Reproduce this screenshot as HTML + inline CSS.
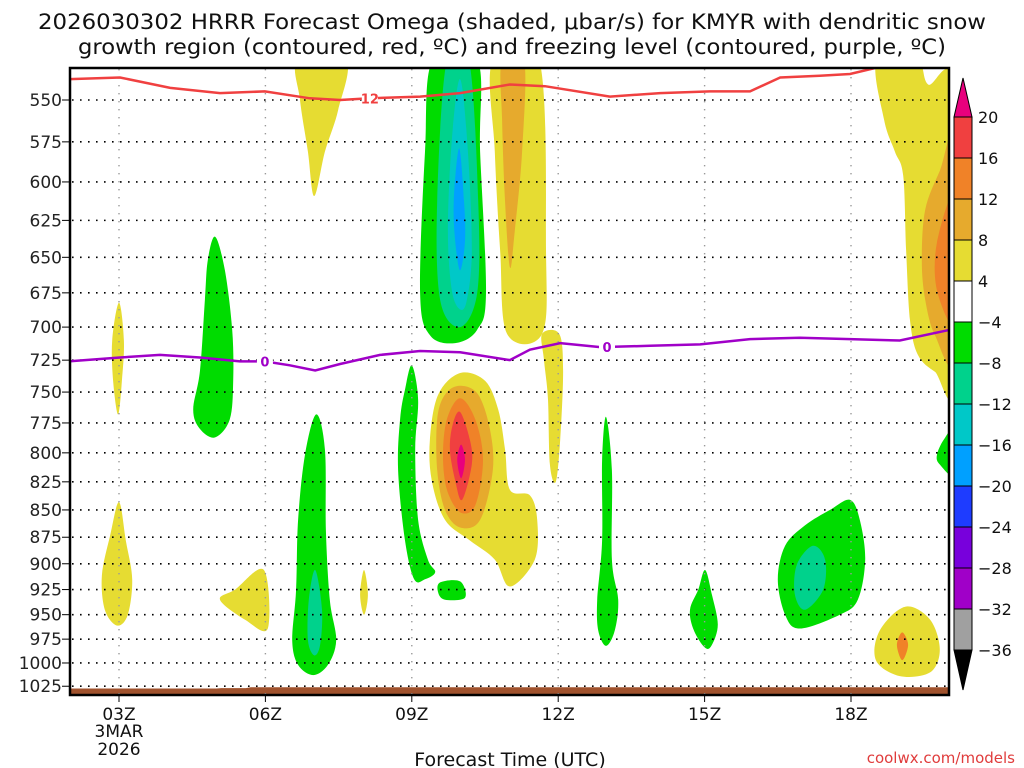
<!DOCTYPE html>
<html><head><meta charset="utf-8">
<style>
html,body{margin:0;padding:0;background:#fff;}
svg{display:block;font-family:"DejaVu Sans","Liberation Sans",sans-serif;}
</style></head>
<body>
<svg id="chart" width="1024" height="768" viewBox="0 0 1024 768" xmlns="http://www.w3.org/2000/svg">
<defs><clipPath id="plotclip"><rect x="70" y="68" width="879" height="627"/></clipPath></defs>
<rect x="0" y="0" width="1024" height="768" fill="#fff"/>
<text x="38" y="29" font-size="21" textLength="948" lengthAdjust="spacingAndGlyphs" fill="#111">2026030302 HRRR Forecast Omega (shaded, μbar/s) for KMYR with dendritic snow</text>
<text x="78" y="54" font-size="21" textLength="868" lengthAdjust="spacingAndGlyphs" fill="#111">growth region (contoured, red, ºC) and freezing level (contoured, purple, ºC)</text>
<g id="plot" clip-path="url(#plotclip)"></g>
<g id="grid"></g>
<g id="lines" clip-path="url(#plotclip)"></g>
<rect x="70" y="68" width="879" height="627" fill="none" stroke="#000" stroke-width="2.5"/>
<g id="axes"></g>
<g id="cbar"></g>
<text x="510" y="766" font-size="19" text-anchor="middle" fill="#111">Forecast Time (UTC)</text>
<text x="1015" y="763" font-size="15" text-anchor="end" fill="#e03c3c">coolwx.com/models</text>
</svg>
<script>
const NS="http://www.w3.org/2000/svg";
const pressureTicks=[550,575,600,625,650,675,700,725,750,775,800,825,850,875,900,925,950,975,1000,1025];
const hourTicks=[3,6,9,12,15,18];
const hourTickLabels=["03Z","06Z","09Z","12Z","15Z","18Z"];
const cbLevels=[20,16,12,8,4,-4,-8,-12,-16,-20,-24,-28,-32,-36];
const cbColors=["#f04040","#f08228","#e6aa2d","#e6dc32","#ffffff","#00dc00","#00d28c","#00c8c8","#00a0ff","#1e3cff","#7800dc","#a000c8","#a0a0a0"];
const levelColor={y:"#e6dc32",g:"#e6aa2d",o:"#f08228",r:"#f04040",m:"#e8007d",G:"#00dc00",T:"#00d28c",C:"#00c8c8",B:"#00a0ff"};
// blobs: [level, hours[], pressures[]]
const blobLevels=["y","G","T","C","B","y","g","y","y","g","o","r","m","G","G","G","T","G","y","y","y","y","G","G","G","T","y","o","G","y","g","o"];
const blobHours=[
[6.67,7.65,7.49,7.22,7.0,6.87,6.71],
[9.43,10.34,10.40,10.52,10.34,9.89,9.37,9.17,9.27],
[9.72,10.17,10.36,10.34,9.99,9.58,9.52],
[9.99,10.15,10.23,10.13,9.99,9.82,9.74,9.82],
[9.97,10.07,10.09,9.99,9.89,9.86],
[10.66,11.61,11.75,11.67,10.95,10.81,10.70],
[10.85,11.30,11.26,11.11,11.01,10.91,10.85],
[11.67,12.02,12.10,12.04,11.95,11.83,11.79,11.71],
[9.99,10.50,10.77,10.91,11.01,11.42,11.57,11.52,11.01,10.70,10.19,9.68,9.41,9.37,9.54],
[9.99,10.36,10.60,10.66,10.40,9.99,9.68,9.52,9.52,9.68],
[9.99,10.30,10.46,10.30,9.99,9.72,9.64,9.72],
[9.99,10.19,10.23,10.03,9.89,9.78,9.84],
[10.01,10.09,10.01,9.93],
[9.00,9.13,9.07,9.13,9.33,9.48,9.27,9.05,8.86,8.72,8.76,8.86],
[9.58,9.99,10.09,9.68,9.54],
[7.04,7.22,7.24,7.32,7.45,7.28,6.98,6.67,6.55,6.63,6.67,6.81],
[7.02,7.16,7.12,7.00,6.87,6.89],
[4.97,5.17,5.32,5.34,5.27,4.97,4.66,4.52,4.66,4.76,4.82],
[3.00,3.10,3.06,2.98,2.88,2.86],
[3.00,3.14,3.27,3.18,2.96,2.71,2.65,2.82],
[5.97,6.05,5.58,5.07,5.38],
[8.02,8.10,8.02,7.94],
[12.98,13.10,13.10,13.23,13.16,12.98,12.82,12.80,12.90,12.90],
[15.01,15.15,15.27,15.15,15.01,14.78,14.70,14.87],
[17.98,18.18,18.29,18.14,17.77,16.95,16.65,16.50,16.65,17.06,17.57],
[17.22,17.47,17.43,17.06,16.85,16.89],
[19.11,19.62,19.82,19.62,19.00,18.51,18.59],
[19.05,19.17,19.05,18.94],
[20.13,20.13,19.82,19.76,19.90],
[18.53,19.35,19.58,20.13,20.13,19.72,19.37,19.21,19.13,19.07,18.90,18.68],
[20.13,19.82,19.52,19.45,19.52,19.72,20.13],
[20.13,19.76,19.76,20.13]
];
const blobPressures=[
[527,527,556,581,609,581,550],
[527,527,581,675,702,712,706,675,581],
[527,527,612,675,700,680,612],
[538,581,645,680,687,673,632,574],
[579,612,639,659,639,612],
[527,527,645,705,705,645,581],
[527,527,581,632,657,612,562],
[705,705,733,789,825,810,756,725],
[735,741,764,797,832,837,859,896,922,896,878,859,824,789,752],
[745,752,780,815,859,866,850,815,772,752],
[755,772,806,846,852,832,802,772],
[766,789,810,841,824,797,776],
[793,806,822,806],
[729,756,797,859,896,908,915,915,878,815,772,748],
[918,917,933,935,928],
[768,797,869,935,976,1002,1013,1002,976,925,859,802],
[906,945,981,992,976,935],
[636,659,702,741,772,787,780,764,733,680,652],
[682,710,741,768,741,710],
[843,878,915,950,961,945,911,873],
[906,964,955,935,925],
[906,930,950,930],
[770,815,896,935,966,982,966,935,878,806],
[906,930,960,981,984,966,945,925],
[841,859,896,935,950,964,950,915,883,864,850],
[883,896,925,945,930,901],
[942,955,986,1010,1014,997,966],
[968,981,997,981],
[780,819,810,802,789],
[527,527,541,545,741,734,721,695,645,596,581,562],
[574,593,618,652,680,706,721],
[609,640,673,695]
];
const dgzHours=[1.95,3.02,4.05,5.07,5.99,6.91,7.53,8.14,9.17,9.99,11.01,11.73,13.06,14.09,15.11,15.93,16.55,17.36,17.98,18.59];
const dgzPressures=[538,537,543,546,545,549,550,549,548,546,541,542,548,546,545,545,537,536,535,531];
const frzHours=[1.95,3.02,3.84,4.66,5.48,5.99,6.50,7.02,7.53,8.35,9.17,9.99,11.01,11.42,12.04,12.86,13.88,14.91,15.93,16.95,17.98,19.00,20.03];
const frzPressures=[726,723,721,723,726,726,729,733,728,721,718,719,725,717,712,715,714,713,709,708,709,710,702];
const groundHours=[1.9,5.0,5.1,5.6,5.7,20.2];
const groundPressures=[1027.5,1027.5,1027,1027,1026,1026];

const xS=h=>119+(h-3)*48.8;
const yS=p=>100+941.7*Math.log(p/550);

function smoothClosed(pts){
  const n=pts.length;let d=`M${pts[0][0].toFixed(1)},${pts[0][1].toFixed(1)}`;
  for(let i=0;i<n;i++){
    const p0=pts[(i-1+n)%n],p1=pts[i],p2=pts[(i+1)%n],p3=pts[(i+2)%n];
    const c1=[p1[0]+(p2[0]-p0[0])/6,p1[1]+(p2[1]-p0[1])/6];
    const c2=[p2[0]-(p3[0]-p1[0])/6,p2[1]-(p3[1]-p1[1])/6];
    d+=`C${c1[0].toFixed(1)},${c1[1].toFixed(1)} ${c2[0].toFixed(1)},${c2[1].toFixed(1)} ${p2[0].toFixed(1)},${p2[1].toFixed(1)}`;
  }
  return d+"Z";
}
function mk(tag,attrs,parent){const e=document.createElementNS(NS,tag);for(const k in attrs)e.setAttribute(k,attrs[k]);parent.appendChild(e);return e;}

const plot=document.getElementById("plot");
blobLevels.forEach((lv,i)=>{
  const pts=blobHours[i].map((h,j)=>[xS(h),yS(blobPressures[i][j])]);
  const e=mk("path",{d:smoothClosed(pts),fill:levelColor[lv]},plot);
  
  
});
// ground
{
  let d=`M${xS(groundHours[0])},720`;
  groundHours.forEach((h,i)=>{d+=`L${xS(h).toFixed(1)},${yS(groundPressures[i]).toFixed(1)}`;});
  d+=`L${xS(groundHours[groundHours.length-1])},720Z`;
  const e=mk("path",{d:d,fill:"#a0522d"},plot);
  
  
}
// grid
const grid=document.getElementById("grid");
pressureTicks.forEach(p=>{
  const e=mk("line",{x1:72,x2:948,y1:yS(p),y2:yS(p),stroke:"#000","stroke-width":1.6,"stroke-dasharray":"1.6 6.4"},grid);
  
  
});
hourTicks.forEach(h=>{
  const e=mk("line",{x1:xS(h),x2:xS(h),y1:69,y2:694,stroke:"#999","stroke-width":1.4,"stroke-dasharray":"1.4 6.6"},grid);
  
  
});
// contour lines
const lines=document.getElementById("lines");
{
  const e=mk("polyline",{points:dgzHours.map((h,i)=>`${xS(h).toFixed(1)},${yS(dgzPressures[i]).toFixed(1)}`).join(" "),fill:"none",stroke:"#f04040","stroke-width":2.5},lines);
  
  
  const f=mk("polyline",{points:frzHours.map((h,i)=>`${xS(h).toFixed(1)},${yS(frzPressures[i]).toFixed(1)}`).join(" "),fill:"none",stroke:"#a000c8","stroke-width":2.5},lines);
  
  
  const lab=[[8.14,549,"12","#f04040"],[5.99,726,"0","#a000c8"],[13.0,715,"0","#a000c8"]];
  lab.forEach(l=>{
    const r=mk("rect",{x:xS(l[0])-8,y:yS(l[1])-7,width:16,height:14,fill:"#fff"},lines);
    
    
    const t=mk("text",{x:xS(l[0]),y:yS(l[1])+5,"font-size":13,"font-weight":"bold","text-anchor":"middle",fill:l[3]},lines);
    t.textContent=l[2];
    
    
  });
}
// axes
const axes=document.getElementById("axes");
pressureTicks.forEach(p=>{
  const t=mk("text",{x:62,y:yS(p)+6,"font-size":17,"text-anchor":"end",fill:"#222"},axes);
  t.textContent=p;
  
  
  const k=mk("line",{x1:62,x2:70,y1:yS(p),y2:yS(p),stroke:"#000","stroke-width":1},axes);
  
  
});
hourTicks.forEach((h,i)=>{
  const k=mk("line",{x1:xS(h),x2:xS(h),y1:695,y2:702,stroke:"#000","stroke-width":1},axes);
  
  
  const t=mk("text",{x:xS(h),y:720,"font-size":17,"text-anchor":"middle",fill:"#111"},axes);
  t.textContent=hourTickLabels[i];
  
  
});
[["3MAR",737],["2026",755]].forEach(a=>{
  const t=mk("text",{x:xS(3),y:a[1],"font-size":17,"text-anchor":"middle",fill:"#111"},axes);
  t.textContent=a[0];
  
  
});
// colorbar
const cb=document.getElementById("cbar");
const cbY=i=>117+i*41;
{
  const tt=mk("polygon",{points:`954,117 972,117 963,78`,fill:"#e8007d",stroke:"#000","stroke-width":1},cb);
  
  
  for(let i=0;i<cbColors.length;i++){
    const y1=cbY(i),y2=cbY(i+1);
    const r=mk("rect",{x:954,y:y1,width:18,height:y2-y1,fill:cbColors[i],stroke:"#000","stroke-width":1},cb);
    
    
  }
  const last=cbY(cbColors.length);
  const tb=mk("polygon",{points:`954,${last} 972,${last} 963,690`,fill:"#000",stroke:"#000","stroke-width":1},cb);
  
  
  cbLevels.forEach((v,i)=>{
    const t=mk("text",{x:978,y:cbY(i)+6,"font-size":16,fill:"#111"},cb);
    t.textContent=v<0?"\u2212"+(-v):String(v);
    
    
  });
}
</script>
</body></html>
